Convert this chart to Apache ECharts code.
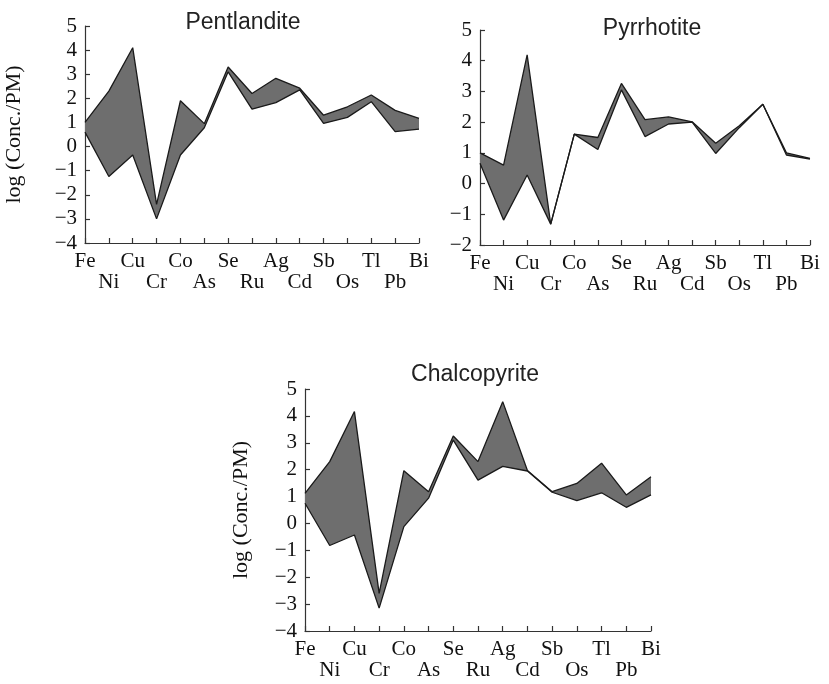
<!DOCTYPE html>
<html>
<head>
<meta charset="utf-8">
<script src="https://cdn.jsdelivr.net/npm/echarts@6/dist/echarts.min.js"></script>
<style>
html,body{margin:0;padding:0;background:#fff;}
#c{width:829px;height:684px;}
</style>
</head>
<body>
<div id="c"></div>
<script>
const categories = ['Fe','Ni','Cu','Cr','Co','As','Se','Ru','Ag','Cd','Sb','Os','Tl','Pb','Bi'];

const pentUpper = [1.0, 2.3, 4.1, -2.4, 1.9, 0.95, 3.3, 2.2, 2.83, 2.42, 1.3, 1.65, 2.14, 1.5, 1.17];
const pentLower = [0.6, -1.24, -0.35, -3.0, -0.35, 0.78, 3.1, 1.55, 1.82, 2.35, 0.96, 1.21, 1.86, 0.62, 0.72];

const pyrrUpper = [1.0, 0.6, 4.19, -1.32, 1.61, 1.5, 3.26, 2.08, 2.17, 2.01, 1.31, 1.88, 2.58, 1.0, 0.82];
const pyrrLower = [0.66, -1.19, 0.28, -1.32, 1.61, 1.11, 3.05, 1.53, 1.94, 2.0, 0.98, 1.82, 2.58, 0.93, 0.8];

const chalUpper = [1.12, 2.3, 4.16, -2.6, 1.96, 1.18, 3.25, 2.3, 4.53, 1.97, 1.18, 1.49, 2.24, 1.06, 1.74];
const chalLower = [0.75, -0.82, -0.43, -3.15, -0.12, 0.94, 3.1, 1.61, 2.12, 1.95, 1.16, 0.85, 1.14, 0.6, 1.06];

const titles = ['Pentlandite', 'Pyrrhotite', 'Chalcopyrite'];
const yMins = [-4, -2, -4];
const yMax = 5;
const yName = 'log (Conc./PM)';

const panels = [
  {upper: pentUpper, lower: pentLower},
  {upper: pyrrUpper, lower: pyrrLower},
  {upper: chalUpper, lower: chalLower}
];

const grids = [
  {left: 85, top: 26, width: 334, height: 217},
  {left: 480, top: 30, width: 330, height: 215},
  {left: 305, top: 389, width: 346, height: 242}
];
const titlePos = [[243, 23], [652, 29], [475, 375]];
const nameGaps = [60, null, 53];

const serif = '"Liberation Serif", "DejaVu Serif", serif';
const sans = '"Liberation Sans", Arial, sans-serif';
const axisColor = '#333';

const option = {
  backgroundColor: '#fff',
  animation: false,
  grid: grids.map(g => Object.assign({containLabel: false}, g)),
  xAxis: grids.map((g, i) => ({
    type: 'category',
    gridIndex: i,
    data: categories,
    boundaryGap: false,
    axisLine: {onZero: false, lineStyle: {color: axisColor, width: 1.2}},
    axisTick: {inside: true, length: 5, lineStyle: {color: axisColor, width: 1.2}},
    axisLabel: {
      interval: 0,
      margin: 8,
      fontFamily: serif,
      fontSize: 21,
      lineHeight: 21,
      color: '#111',
      formatter: (v, idx) => (idx % 2 === 1 ? '\n' + v : v)
    },
    splitLine: {show: false}
  })),
  yAxis: grids.map((g, i) => ({
    type: 'value',
    gridIndex: i,
    min: yMins[i],
    max: yMax,
    interval: 1,
    name: nameGaps[i] ? yName : '',
    nameLocation: 'middle',
    nameGap: nameGaps[i] || 0,
    nameRotate: 90,
    nameTextStyle: {fontFamily: serif, fontSize: 22, color: '#111'},
    axisLine: {show: true, onZero: false, lineStyle: {color: axisColor, width: 1.2}},
    axisTick: {show: true, inside: true, length: 5, lineStyle: {color: axisColor, width: 1.2}},
    axisLabel: {
      margin: 8,
      fontFamily: serif,
      fontSize: 21,
      color: '#111',
      padding: [6, 0, 0, 0],
      formatter: v => (v < 0 ? '\u2212' + Math.abs(v) : String(v))
    },
    splitLine: {show: false}
  })),
  graphic: titles.map((t, i) => ({
    type: 'text',
    x: titlePos[i][0],
    y: titlePos[i][1],
    style: {
      text: t,
      font: '23px ' + sans,
      fill: '#222',
      textAlign: 'center',
      textVerticalAlign: 'middle'
    }
  })),
  series: []
};

panels.forEach((p, i) => {
  option.series.push({
    type: 'line',
    xAxisIndex: i,
    yAxisIndex: i,
    data: p.lower,
    stack: 'band' + i,
    stackStrategy: 'all',
    symbol: 'none',
    lineStyle: {color: '#1a1a1a', width: 1.3},
    z: 3
  });
  option.series.push({
    type: 'line',
    xAxisIndex: i,
    yAxisIndex: i,
    data: p.upper.map((u, k) => u - p.lower[k]),
    stack: 'band' + i,
    stackStrategy: 'all',
    symbol: 'none',
    lineStyle: {color: '#1a1a1a', width: 1.3},
    areaStyle: {color: '#6e6e6e', opacity: 1},
    z: 2
  });
});

const chart = echarts.init(document.getElementById('c'), null, {renderer: 'canvas'});
chart.setOption(option);
</script>
</body>
</html>
